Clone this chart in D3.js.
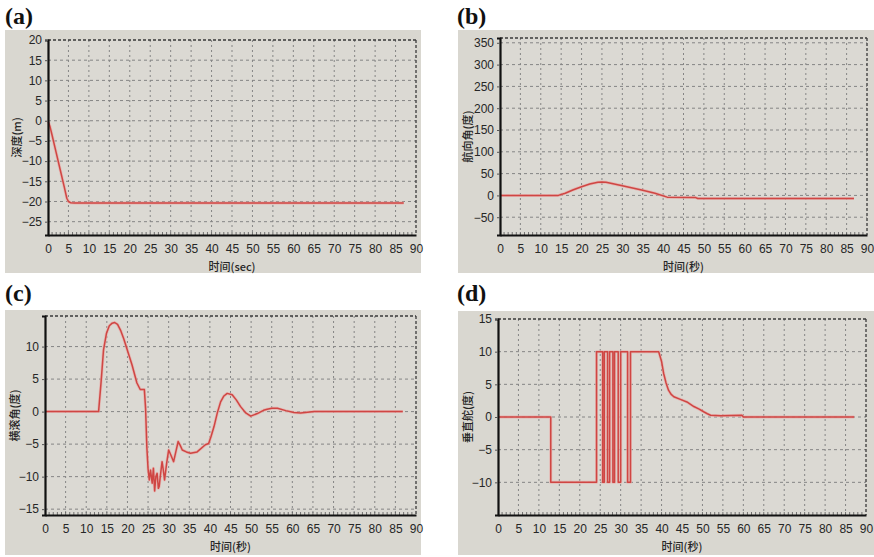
<!DOCTYPE html>
<html><head><meta charset="utf-8">
<script src="https://cdn.jsdelivr.net/npm/d3@7"></script>
<style>
body{margin:0;background:#fff;}
svg{display:block;}
</style></head>
<body>
<svg id="chart" width="874" height="557"></svg>
<script>
// ---------- data ----------
const timeTicks = [0,5,10,15,20,25,30,35,40,45,50,55,60,65,70,75,80,85,90];
const panelLetters = ["(a)","(b)","(c)","(d)"];
const yTitles = ["深度(m)","航向角(度)","横滚角(度)","垂直舵(度)"];
const xTitles = ["时间(sec)","时间(秒)","时间(秒)","时间(秒)"];

const depthTicks = [20,15,10,5,0,-5,-10,-15,-20,-25];
const depthTime  = [0,0.5,1,2,3,4,4.6,5.0,5.5,6.5,87];
const depthValue = [0,-1.5,-3.6,-7.9,-12.2,-16.5,-19.2,-20.0,-20.3,-20.4,-20.4];

const headingTicks = [350,300,250,200,150,100,50,0,-50];
const headingTime  = [0,14.3,16,18,20,22,24,25,26,30,35,38,41,48,48.5,86.8];
const headingValue = [0,0,5,13,20,26,30,31,30,22,12,5,-4,-5,-7,-7];

const rollTicks = [10,5,0,-5,-10,-15];
const rollTime  = [0,13.0,13.6,14.2,14.9,15.6,16.3,16.9,17.6,18.4,19.1,20.1,21.1,22.3,23.1,24.1,24.4,24.7,25.0,25.3,25.6,26.0,26.3,26.6,26.9,27.2,27.5,27.7,28.0,28.4,28.7,29.0,29.5,30.0,30.6,31.2,31.8,32.3,32.8,33.3,34.3,35.3,36.9,38.9,39.7,40.3,41.0,41.8,42.6,43.4,44.2,45.4,46.4,47.4,48.7,49.9,51.5,53.0,53.9,55.0,56.4,58.4,60.4,62.0,63.7,65.3,86.8];
const rollValue = [0,0,4.5,9.5,12.0,13.2,13.6,13.7,13.4,12.4,11.2,9.2,7.2,4.4,3.4,3.4,0.5,-5.4,-8.8,-10.5,-9.0,-11.0,-8.7,-12.2,-10.0,-9.5,-11.8,-11.5,-9.8,-7.7,-9.0,-10.5,-8.0,-5.9,-6.8,-7.7,-6.0,-4.6,-5.2,-5.9,-6.2,-6.4,-6.2,-5.1,-4.9,-3.8,-2.3,-0.2,1.5,2.4,2.8,2.6,1.8,0.8,-0.2,-0.7,-0.3,0.2,0.36,0.5,0.5,0.15,-0.15,-0.2,-0.1,0,0];

const rudderTicks = [15,10,5,0,-5,-10];
const rudderTime  = [0,12.9,12.9,24.1,24.1,25.6,25.6,26.0,26.0,26.8,26.8,27.3,27.3,28.1,28.1,28.5,28.5,29.4,29.4,30.0,30.0,31.7,31.7,32.4,32.4,39.3,40.0,40.5,41.1,41.7,42.3,43.0,44.6,46.2,47.9,49.2,50.3,51.2,52.0,54.4,59.7,60.0,87.1];
const rudderValue = [0,0,-10,-10,10,10,-10,-10,10,10,-10,-10,10,10,-10,-10,10,10,-10,-10,10,10,-10,-10,10,10,8.5,6.7,5.2,4.1,3.5,3.1,2.7,2.3,1.6,1.2,0.8,0.5,0.26,0.2,0.25,0,0];

// ---------- layout ----------
const panels = [
  {bg:[5,30,416,243],  plot:[48,40,416,235],  yDom:[-28.3,20],   yTicks:depthTicks,   t:depthTime,   v:depthValue,   letter:[5,24],  ytx:16,  xty:271},
  {bg:[458,30,416,243],plot:[500,38,867,235], yDom:[-90.8,361],  yTicks:headingTicks, t:headingTime, v:headingValue, letter:[457,24],ytx:467, xty:271},
  {bg:[5,310,416,245], plot:[45,316,416,515], yDom:[-15.9,14.7], yTicks:rollTicks,    t:rollTime,    v:rollValue,    letter:[5,301], ytx:14,  xty:551},
  {bg:[458,311,416,244],plot:[498,319,866,515],yDom:[-15,15],    yTicks:rudderTicks,  t:rudderTime,  v:rudderValue,  letter:[457,301],ytx:467,xty:551}
];

const svg = d3.select("#chart");
const font = "'Liberation Sans', Arial, sans-serif";

panels.forEach((p, i) => {
  const [x0,y0,x1,y1] = p.plot;
  const g = svg.append("g");
  g.append("rect").attr("x",p.bg[0]).attr("y",p.bg[1]).attr("width",p.bg[2]).attr("height",p.bg[3]).attr("fill","#d9d7d0");
  g.append("rect").attr("x",x0).attr("y",y0).attr("width",x1-x0).attr("height",y1-y0).attr("fill","#dbd9d3");

  const x = d3.scaleLinear().domain([0,90]).range([x0,x1]);
  const y = d3.scaleLinear().domain(p.yDom).range([y1,y0]);

  // grid
  g.append("g").selectAll("line").data(timeTicks.filter(d=>d>0 && d<90)).join("line")
    .attr("x1",d=>x(d)).attr("x2",d=>x(d)).attr("y1",y0).attr("y2",y1)
    .attr("stroke","#858585").attr("stroke-width",1).attr("stroke-dasharray","2,3");
  g.append("g").selectAll("line").data(p.yTicks.filter(d=>y(d)>y0+1 && y(d)<y1-1)).join("line")
    .attr("x1",x0).attr("x2",x1).attr("y1",d=>y(d)).attr("y2",d=>y(d))
    .attr("stroke","#858585").attr("stroke-width",1).attr("stroke-dasharray","3,3");

  // top & right border dashed
  g.append("line").attr("x1",x0).attr("x2",x1).attr("y1",y0).attr("y2",y0)
    .attr("stroke","#3a3a3a").attr("stroke-width",1.3).attr("stroke-dasharray","3,2");
  g.append("line").attr("x1",x1).attr("x2",x1).attr("y1",y0).attr("y2",y1)
    .attr("stroke","#3a3a3a").attr("stroke-width",1.3).attr("stroke-dasharray","3,2");

  // minor ticks on bottom axis
  g.append("g").selectAll("line").data(d3.range(1,90)).join("line")
    .attr("x1",d=>x(d)).attr("x2",d=>x(d)).attr("y1",y1-3).attr("y2",y1)
    .attr("stroke","#555").attr("stroke-width",0.8);

  // line with soft halo
  const pts = p.t.map((tt,k)=>[tt,p.v[k]]);
  const line = d3.line().x(d=>x(d[0])).y(d=>y(d[1]));
  g.append("path").attr("d",line(pts)).attr("fill","none").attr("stroke","#e9a9a6").attr("stroke-width",3).attr("stroke-opacity",0.7).attr("stroke-linejoin","round");
  g.append("path").attr("d",line(pts)).attr("fill","none").attr("stroke","#cf4643").attr("stroke-width",1.5).attr("stroke-linejoin","round");

  // axes
  const xAxis = d3.axisBottom(x).tickValues(timeTicks).tickSize(0).tickPadding(9);
  const xa = g.append("g").attr("transform",`translate(0,${y1})`).call(xAxis);
  xa.select(".domain").attr("stroke","#111").attr("stroke-width",2.2);
  xa.selectAll("text").attr("font-family",font).attr("font-size",12).attr("fill","#262626");

  const yAxis = d3.axisLeft(y).tickValues(p.yTicks).tickSize(3).tickPadding(3);
  const ya = g.append("g").attr("transform",`translate(${x0},0)`).call(yAxis);
  ya.select(".domain").attr("stroke","#111").attr("stroke-width",2.2);
  ya.selectAll(".tick line").attr("stroke","#555");
  ya.selectAll("text").attr("font-family",font).attr("font-size",12).attr("fill","#262626");

  // titles
  g.append("text").attr("x",(x0+x1)/2).attr("y",p.xty).attr("text-anchor","middle")
    .attr("font-family","'Noto Sans CJK SC', sans-serif").attr("font-size",11).attr("font-weight","500").attr("fill","#262626").text(xTitles[i]);
  g.append("text").attr("transform",`translate(${p.ytx},${(y0+y1)/2}) rotate(-90)`).attr("text-anchor","middle").attr("dominant-baseline","central")
    .attr("font-family","'Noto Sans CJK SC', sans-serif").attr("font-size",11).attr("font-weight","500").attr("fill","#262626").text(yTitles[i]);

  svg.append("text").attr("x",p.letter[0]).attr("y",p.letter[1])
    .attr("font-family","'Liberation Serif','Times New Roman',serif").attr("font-weight","bold").attr("font-size",24).attr("fill","#111").text(panelLetters[i]);
});
</script>
</body></html>
